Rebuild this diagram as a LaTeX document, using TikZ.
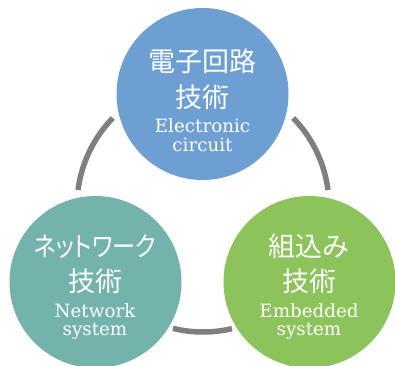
\documentclass[tikz,border=0pt]{standalone}
\usepackage{fontspec}
\usetikzlibrary{calc}
\newfontfamily\jpfont{Noto Sans CJK JP}
\newfontfamily\jppfont[RawFeature=+palt,FakeStretch=0.86]{Noto Sans CJK JP}
\newfontfamily\enfont{DejaVu Serif}
\definecolor{cblue}{HTML}{6E9FD3}
\definecolor{cteal}{HTML}{73B3AB}
\definecolor{cgreen}{HTML}{8CC35B}
\definecolor{cring}{HTML}{7F7F7F}
\begin{document}
\begin{tikzpicture}[x=1pt,y=1pt,
  bubble/.style={circle,minimum size=172pt,inner sep=0pt,draw=none},
  jtext/.style={anchor=base,inner sep=0pt,text=white,font=\jpfont\fontsize{27}{27}\selectfont},
  ktext/.style={anchor=base,inner sep=0pt,text=white,font=\jppfont\fontsize{27}{27}\selectfont},
  etext/.style={anchor=base,inner sep=0pt,text=white,font=\enfont\fontsize{18.3}{18.3}\selectfont},
  ring/.style={draw=cring,line width=5.5pt}]
\useasboundingbox (0,0) rectangle (395,365);
\coordinate (rc) at (203,159);
% ring arcs
\draw[ring] ($(rc)+(135.7:126)$) arc[start angle=135.7,end angle=172.7,radius=126];
\draw[ring] ($(rc)+(7.3:126)$) arc[start angle=7.3,end angle=44.3,radius=126];
\draw[ring] ($(rc)+(256.2:126)$) arc[start angle=256.2,end angle=283.3,radius=126];
% circles
\node[bubble,fill=cblue] (top) at (202.5,271) {};
\node[bubble,fill=cteal] (left) at (95.5,83) {};
\node[bubble,fill=cgreen] (right) at (309.5,83) {};
% texts top
\node[jtext] (t1) at (202.5,293.7) {電子回路};
\node[jtext] (t2) at (202.5,257.7) {技術};
\node[etext] (t3) at (202.5,233) {Electronic};
\node[etext] (t4) at (202.5,214) {circuit};
% texts left
\node[ktext] (l1) at (95,108.7) {ネットワーク};
\node[jtext] (l2) at (95,73.7) {技術};
\node[etext] (l3) at (95,48) {Network};
\node[etext] (l4) at (95,30) {system};
% texts right
\node[jtext] (r1) at (309,108.7) {組込み};
\node[jtext] (r2) at (309,73.7) {技術};
\node[etext] (r3) at (309,48) {Embedded};
\node[etext] (r4) at (309,30) {system};
\end{tikzpicture}
\end{document}
